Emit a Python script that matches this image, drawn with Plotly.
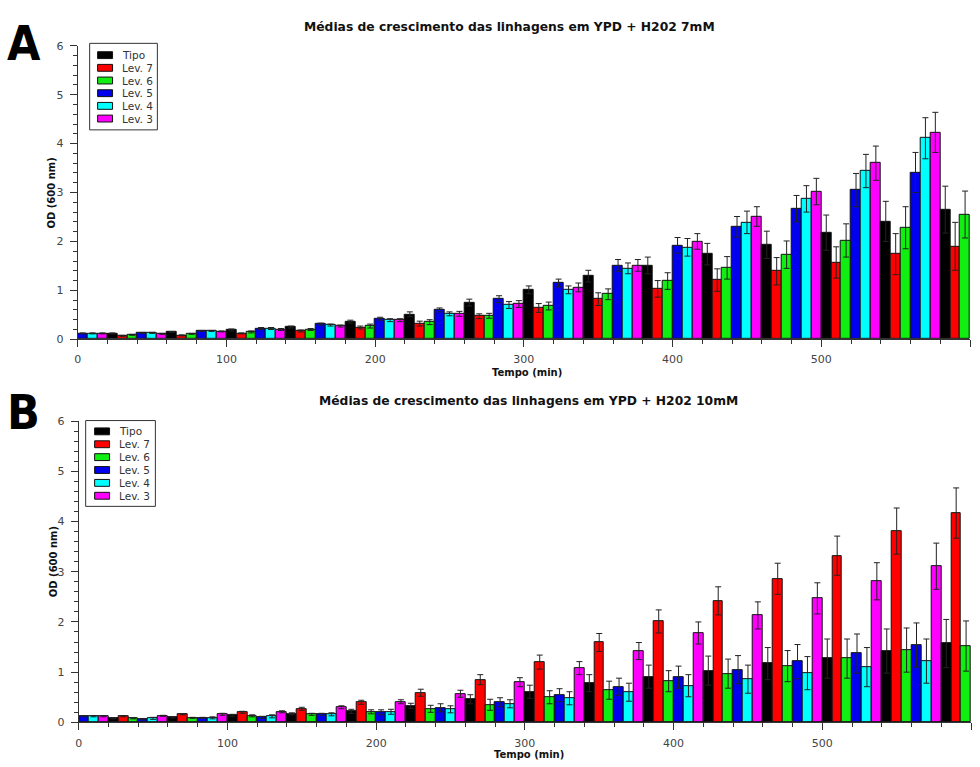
import plotly.graph_objects as go

# ---------------- data ----------------
# Measurement groups every 40 min; within each group six strains occupy
# consecutive bar slots (Lev. 5, Lev. 4, Lev. 3, Tipo, Lev. 7, Lev. 6).
group_times = [0, 40, 80, 120, 160, 200, 240, 280, 320, 360, 400, 440, 480, 520, 560]
slot_order = ["Lev. 5", "Lev. 4", "Lev. 3", "Tipo", "Lev. 7", "Lev. 6"]
legend_order = ["Tipo", "Lev. 7", "Lev. 6", "Lev. 5", "Lev. 4", "Lev. 3"]
colors = {
    "Tipo": "#000000",
    "Lev. 7": "#ff0000",
    "Lev. 6": "#11ee11",
    "Lev. 5": "#0000ee",
    "Lev. 4": "#00ffff",
    "Lev. 3": "#ff00ff",
}

# Panel A: YPD + H2O2 7 mM
a_lev5 = [0.12, 0.13, 0.17, 0.22, 0.31, 0.42, 0.60, 0.82, 1.15, 1.51, 1.92, 2.30, 2.67, 3.05, 3.41]
a_lev4 = [0.12, 0.13, 0.17, 0.22, 0.29, 0.39, 0.52, 0.70, 1.01, 1.45, 1.88, 2.39, 2.87, 3.44, 4.11]
a_lev3 = [0.12, 0.11, 0.16, 0.20, 0.27, 0.39, 0.52, 0.72, 1.06, 1.51, 2.00, 2.51, 3.02, 3.60, 4.23]
a_tipo = [0.12, 0.15, 0.19, 0.25, 0.36, 0.51, 0.75, 1.01, 1.29, 1.51, 1.74, 1.93, 2.18, 2.41, 2.65]
a_lev7 = [0.07, 0.08, 0.12, 0.17, 0.24, 0.32, 0.47, 0.64, 0.82, 1.03, 1.21, 1.39, 1.57, 1.74, 1.90]
a_lev6 = [0.09, 0.11, 0.15, 0.20, 0.27, 0.35, 0.48, 0.68, 0.92, 1.19, 1.46, 1.73, 2.02, 2.28, 2.55]

a_lev5_err = [0.01, 0.01, 0.01, 0.02, 0.02, 0.03, 0.04, 0.07, 0.08, 0.12, 0.16, 0.21, 0.27, 0.34, 0.41]
a_lev4_err = [0.01, 0.01, 0.01, 0.02, 0.02, 0.03, 0.04, 0.07, 0.08, 0.11, 0.18, 0.23, 0.27, 0.34, 0.42]
a_lev3_err = [0.01, 0.01, 0.01, 0.02, 0.02, 0.03, 0.05, 0.07, 0.09, 0.12, 0.16, 0.20, 0.27, 0.35, 0.41]
a_tipo_err = [0.01, 0.01, 0.02, 0.02, 0.03, 0.05, 0.07, 0.08, 0.12, 0.17, 0.22, 0.28, 0.36, 0.41, 0.48]
a_lev7_err = [0.01, 0.01, 0.01, 0.02, 0.03, 0.05, 0.05, 0.09, 0.13, 0.17, 0.23, 0.28, 0.32, 0.42, 0.49]
a_lev6_err = [0.01, 0.01, 0.02, 0.02, 0.04, 0.05, 0.05, 0.08, 0.11, 0.17, 0.23, 0.28, 0.34, 0.43, 0.48]

# Panel B: YPD + H2O2 10 mM
b_lev5 = [0.12, 0.06, 0.09, 0.10, 0.16, 0.20, 0.29, 0.40, 0.54, 0.71, 0.90, 1.05, 1.21, 1.37, 1.54]
b_lev4 = [0.12, 0.08, 0.09, 0.12, 0.16, 0.21, 0.26, 0.37, 0.48, 0.60, 0.73, 0.86, 0.98, 1.10, 1.22]
b_lev3 = [0.12, 0.13, 0.16, 0.21, 0.30, 0.41, 0.57, 0.80, 1.08, 1.42, 1.78, 2.13, 2.47, 2.81, 3.11]
b_tipo = [0.08, 0.10, 0.14, 0.17, 0.22, 0.33, 0.46, 0.61, 0.78, 0.91, 1.03, 1.17, 1.27, 1.42, 1.57]
b_lev7 = [0.12, 0.16, 0.20, 0.27, 0.40, 0.59, 0.85, 1.20, 1.59, 2.01, 2.42, 2.86, 3.32, 3.81, 4.17]
b_lev6 = [0.08, 0.09, 0.13, 0.16, 0.21, 0.27, 0.35, 0.50, 0.64, 0.82, 0.97, 1.12, 1.27, 1.44, 1.52]

b_lev5_err = [0.01, 0.01, 0.01, 0.02, 0.02, 0.05, 0.08, 0.09, 0.13, 0.17, 0.22, 0.28, 0.34, 0.39, 0.44]
b_lev4_err = [0.01, 0.02, 0.02, 0.03, 0.03, 0.05, 0.07, 0.08, 0.13, 0.18, 0.22, 0.28, 0.33, 0.39, 0.44]
b_lev3_err = [0.01, 0.01, 0.02, 0.02, 0.03, 0.04, 0.07, 0.09, 0.13, 0.17, 0.22, 0.27, 0.31, 0.37, 0.46]
b_tipo_err = [0.01, 0.01, 0.02, 0.02, 0.04, 0.05, 0.09, 0.13, 0.17, 0.23, 0.29, 0.32, 0.39, 0.44, 0.48]
b_lev7_err = [0.01, 0.01, 0.02, 0.03, 0.04, 0.07, 0.10, 0.14, 0.18, 0.23, 0.28, 0.31, 0.39, 0.46, 0.50]
b_lev6_err = [0.01, 0.01, 0.02, 0.02, 0.04, 0.07, 0.11, 0.13, 0.18, 0.21, 0.29, 0.31, 0.39, 0.44, 0.50]

panel_a = {
    "Lev. 5": (a_lev5, a_lev5_err), "Lev. 4": (a_lev4, a_lev4_err),
    "Lev. 3": (a_lev3, a_lev3_err), "Tipo": (a_tipo, a_tipo_err),
    "Lev. 7": (a_lev7, a_lev7_err), "Lev. 6": (a_lev6, a_lev6_err),
}
panel_b = {
    "Lev. 5": (b_lev5, b_lev5_err), "Lev. 4": (b_lev4, b_lev4_err),
    "Lev. 3": (b_lev3, b_lev3_err), "Tipo": (b_tipo, b_tipo_err),
    "Lev. 7": (b_lev7, b_lev7_err), "Lev. 6": (b_lev6, b_lev6_err),
}

title_a = "Médias de crescimento das linhagens em YPD + H202 7mM"
title_b = "Médias de crescimento das linhagens em YPD + H202 10mM"
x_title = "Tempo (min)"
y_title = "OD (600 nm)"

# ---------------- layout helpers ----------------
W, H = 980, 767
SLOT = 20 / 3  # width of one bar in minutes


def px(x):
    return x / W


def py(y):
    return 1 - y / H


FONT = "DejaVu Sans"
AXIS_GREY = "#333333"

fig = go.Figure()

panels = [
    # data, x-axis id, y-axis id, plot box (left, right, top, bottom) in px
    (panel_a, "x", "y", (74, 970, 40.5, 339)),
    (panel_b, "x2", "y2", (75, 971, 422.3, 728.7)),
]

for data, xa, ya, _ in panels:
    for k, name in enumerate(slot_order):
        vals, errs = data[name]
        xs = [t + k * SLOT + SLOT / 2 for t in group_times]
        fig.add_trace(go.Bar(
            x=xs, y=vals, width=SLOT, name=name, xaxis=xa, yaxis=ya,
            showlegend=False,
            marker=dict(color=colors[name], line=dict(color="#111111", width=1)),
            error_y=dict(type="data", array=errs, visible=True,
                         color="#222222", thickness=1, width=3),
        ))

axis_common = dict(
    showline=True, linecolor=AXIS_GREY, linewidth=1,
    ticks="outside", tickcolor=AXIS_GREY, tickwidth=1, ticklen=7,
    showgrid=False, zeroline=False,
    tickfont=dict(family=FONT, size=11, color="#444444"),
    fixedrange=True,
)

layout_axes = {}
for i, (_, xa, ya, (l, r, t, b)) in enumerate(panels):
    xkey = "xaxis" if i == 0 else "xaxis2"
    ykey = "yaxis" if i == 0 else "yaxis2"
    layout_axes[xkey] = dict(
        axis_common, domain=[px(l), px(r)], anchor=ya, range=[0, 600],
        dtick=100, tick0=0, ticklabelstandoff=3,
        minor=dict(dtick=20, ticks="outside", ticklen=4, tickcolor=AXIS_GREY),
    )
    layout_axes[ykey] = dict(
        axis_common, domain=[py(b), py(t)], anchor=xa, range=[0, 6],
        dtick=1, tick0=0, ticklabelstandoff=4,
        minor=dict(dtick=0.2, ticks="outside", ticklen=4, tickcolor=AXIS_GREY),
    )

annotations = []
shapes = []


def text(x, y, s, size, bold=False, anchor="center", family=FONT, color="#111111", angle=0):
    annotations.append(dict(
        x=px(x), y=py(y), xref="paper", yref="paper", text=f"<b>{s}</b>" if bold else s,
        showarrow=False, xanchor=anchor, yanchor="middle", textangle=angle,
        font=dict(family=family, size=size, color=color),
    ))


# panel titles, axis titles and panel letters
text(508, 21, title_a, 12.3, bold=True)
text(527, 402, title_b, 12.3, bold=True)
text(525, 373, x_title, 10, bold=True)
text(527, 761, x_title, 10, bold=True)
text(48, 190, y_title, 10, bold=True, angle=-90)
text(50, 565, y_title, 10, bold=True, angle=-90)
text(20, 38, "A", 48, bold=True, family="DejaVu Sans Condensed", color="#000000")
text(20, 413, "B", 48, bold=True, family="DejaVu Sans Condensed", color="#000000")

# legend boxes: (box left, right, top, bottom, swatch left, first row y, row step)
legends = [
    (86, 154, 38, 126, 94, 50, 12.9),
    (82, 152, 421.7, 509, 91, 432.7, 13.1),
]
for bl, br, bt, bb, sx, y0, step in legends:
    shapes.append(dict(type="rect", xref="paper", yref="paper",
                       x0=px(bl), x1=px(br), y0=py(bb), y1=py(bt),
                       line=dict(color="#333333", width=1), fillcolor="white", layer="above"))
    for i, name in enumerate(legend_order):
        yc = y0 + i * step
        shapes.append(dict(type="rect", xref="paper", yref="paper",
                           x0=px(sx), x1=px(sx + 15), y0=py(yc + 3.5), y1=py(yc - 3.5),
                           line=dict(color="#111111", width=1),
                           fillcolor=colors[name], layer="above"))
        text(sx + 22.5, yc, name, 10.5, anchor="left", color="#333333")

fig.update_layout(
    width=W, height=H,
    margin=dict(l=0, r=0, t=0, b=0),
    paper_bgcolor="white", plot_bgcolor="white",
    barmode="overlay", bargap=0,
    showlegend=False,
    annotations=annotations, shapes=shapes,
    **layout_axes,
)

fig.write_html("out.html", config={"displayModeBar": False})
